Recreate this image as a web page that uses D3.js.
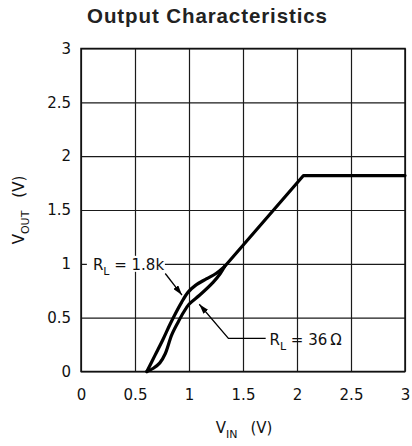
<!DOCTYPE html>
<html>
<head>
<meta charset="utf-8">
<script src="https://cdn.jsdelivr.net/npm/d3@7"></script>
<style>
  body { margin: 0; background: #fff; }
  svg { display: block; }
</style>
</head>
<body>
<div id="chart"></div>
<script>
// values
const xTicks = [0, 0.5, 1, 1.5, 2, 2.5, 3];
const xTickLabels = ["0", "0.5", "1", "1.5", "2", "2.5", "3"];
const yTicks = [0, 0.5, 1, 1.5, 2, 2.5, 3];
const yTickLabels = ["0", "0.5", "1", "1.5", "2", "2.5", "3"];

// curved low part of each load curve (VIN, VOUT)
const curve18k = [[0.61, 0], [0.685, 0.15], [0.76, 0.30], [0.82, 0.43], [0.87, 0.53], [0.93, 0.64],
                  [0.99, 0.735], [1.06, 0.80], [1.16, 0.86], [1.25, 0.91], [1.33, 0.975]];
const curve36 = [[0.61, 0], [0.67, 0.03], [0.73, 0.08], [0.78, 0.165], [0.84, 0.34], [0.90, 0.46],
                 [0.95, 0.55], [1.0, 0.625], [1.1, 0.71], [1.225, 0.83], [1.29, 0.91], [1.33, 0.975]];
// common straight part and clipping level
const curveShared = [[1.33, 0.975], [2.06, 1.82], [3, 1.82]];

// annotations: label anchor, arrow tail, arrow tip
const label18k = { text: "1.8k", x: 0.11, y: 1.0, from: [0.78, 0.91], to: [0.935, 0.71] };
const label36 = { text: "36\u2009\u03A9", x: 1.745, y: 0.3, elbow: [1.365, 0.308], from: [1.71, 0.308], to: [1.095, 0.625] };

const width = 412, height = 446;
const plotLeft = 81, plotRight = 405, plotTop = 48.5, plotBottom = 371.5;

const svg = d3.select("#chart").append("svg")
    .attr("width", width)
    .attr("height", height)
    .attr("font-family", "'DejaVu Sans', sans-serif");

const x = d3.scaleLinear().domain([0, 3]).range([plotLeft, plotRight]);
const y = d3.scaleLinear().domain([0, 3]).range([plotBottom, plotTop]);

// title
svg.append("text")
    .attr("x", 207.5)
    .attr("y", 22.5)
    .attr("text-anchor", "middle")
    .attr("font-family", "'Liberation Sans', Arial, sans-serif")
    .attr("font-weight", "bold")
    .attr("font-size", "20.5px")
    .attr("letter-spacing", "0.9px")
    .attr("fill", "#222")
    .text("Output Characteristics");

// grid + tick labels via axes
const xAxis = svg.append("g")
    .attr("transform", `translate(0,${plotBottom})`)
    .call(d3.axisBottom(x)
      .tickValues(xTicks)
      .tickFormat((d, i) => xTickLabels[i])
      .tickSizeInner(-(plotBottom - plotTop))
      .tickSizeOuter(0)
      .tickPadding(18));

const yAxis = svg.append("g")
    .attr("transform", `translate(${plotLeft},0)`)
    .call(d3.axisLeft(y)
      .tickValues(yTicks)
      .tickFormat((d, i) => yTickLabels[i])
      .tickSizeInner(-(plotRight - plotLeft))
      .tickSizeOuter(0)
      .tickPadding(10));

[xAxis, yAxis].forEach(g => {
  g.select(".domain").remove();
  g.selectAll(".tick line").attr("stroke", "#1a1a1a").attr("stroke-width", 1.2);
  g.selectAll(".tick text")
    .attr("font-family", "'DejaVu Sans', sans-serif")
    .attr("font-size", "15px")
    .attr("fill", "#111");
});

// frame
svg.append("rect")
    .attr("x", x(0))
    .attr("y", y(3))
    .attr("width", x(3) - x(0))
    .attr("height", y(0) - y(3))
    .attr("fill", "none")
    .attr("stroke", "#111")
    .attr("stroke-width", 1.5);

// axis titles
const xt = svg.append("text")
    .attr("x", 244)
    .attr("y", 433)
    .attr("text-anchor", "middle")
    .attr("font-size", "15px")
    .attr("fill", "#111");
xt.append("tspan").text("V");
xt.append("tspan").attr("font-size", "11px").attr("dy", 5).text("IN");
xt.append("tspan").attr("dy", -5).attr("dx", 13).text("(V)");

const yt = svg.append("text")
    .attr("transform", `translate(23.5,${(plotTop + plotBottom) / 2}) rotate(-90)`)
    .attr("text-anchor", "middle")
    .attr("font-size", "15px")
    .attr("fill", "#111");
yt.append("tspan").text("V");
yt.append("tspan").attr("font-size", "11px").attr("dy", 5).text("OUT");
yt.append("tspan").attr("dy", -5).attr("dx", 13).text("(V)");

// curves
const lineCurved = d3.line().x(d => x(d[0])).y(d => y(d[1])).curve(d3.curveCatmullRom.alpha(0.5));
const lineStraight = d3.line().x(d => x(d[0])).y(d => y(d[1]));

const curves = svg.append("g")
    .attr("fill", "none")
    .attr("stroke", "#000")
    .attr("stroke-width", 3.2)
    .attr("stroke-linejoin", "round")
    .attr("stroke-linecap", "round");

curves.append("path").attr("d", lineCurved(curve18k));
curves.append("path").attr("d", lineCurved(curve36));
curves.append("path").attr("d", lineStraight(curveShared));

// arrow marker
svg.append("defs").append("marker")
    .attr("id", "arrow")
    .attr("viewBox", "0 0 10 6")
    .attr("refX", 10)
    .attr("refY", 3)
    .attr("markerWidth", 10)
    .attr("markerHeight", 6)
    .attr("markerUnits", "userSpaceOnUse")
    .attr("orient", "auto")
  .append("path")
    .attr("d", "M0,0L10,3L0,6Z")
    .attr("fill", "#000");

// R_L = 1.8k label
const l1 = svg.append("g");
l1.append("rect")
    .attr("x", x(label18k.x) - 6)
    .attr("y", y(label18k.y) - 8)
    .attr("width", 78)
    .attr("height", 16)
    .attr("fill", "#fff");
const t1 = l1.append("text")
    .attr("x", x(label18k.x))
    .attr("y", y(label18k.y) + 6)
    .attr("font-size", "15px")
    .attr("fill", "#111");
t1.append("tspan").text("R");
t1.append("tspan").attr("font-size", "11px").attr("dy", 5).text("L");
t1.append("tspan").attr("dy", -5).text(" = " + label18k.text);
l1.append("line")
    .attr("x1", x(label18k.from[0])).attr("y1", y(label18k.from[1]))
    .attr("x2", x(label18k.to[0])).attr("y2", y(label18k.to[1]))
    .attr("stroke", "#000")
    .attr("stroke-width", 1.3)
    .attr("marker-end", "url(#arrow)");

// R_L = 36 ohm label
const l2 = svg.append("g");
l2.append("polyline")
    .attr("points", [label36.from, label36.elbow, label36.to].map(p => [x(p[0]), y(p[1])].join(",")).join(" "))
    .attr("fill", "none")
    .attr("stroke", "#000")
    .attr("stroke-width", 1.3)
    .attr("marker-end", "url(#arrow)");
const t2 = l2.append("text")
    .attr("x", x(label36.x))
    .attr("y", y(label36.y) + 6)
    .attr("font-size", "15px")
    .attr("fill", "#111");
t2.append("tspan").text("R");
t2.append("tspan").attr("font-size", "11px").attr("dy", 5).text("L");
t2.append("tspan").attr("dy", -5).text(" = " + label36.text);
</script>
</body>
</html>
